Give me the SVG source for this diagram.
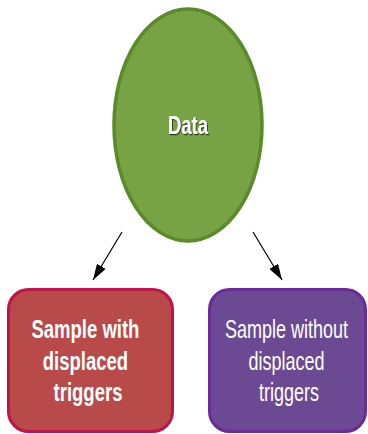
<svg xmlns="http://www.w3.org/2000/svg" width="368" height="434" viewBox="0 0 368 434">
  <defs>
    <marker id="arrow" viewBox="0 0 16 10" refX="16" refY="5" markerWidth="16" markerHeight="10" markerUnits="userSpaceOnUse" orient="auto">
      <path d="M0,0 L16,5 L0,10 Z" fill="#000"/>
    </marker>
    <filter id="shadow" x="-20%" y="-20%" width="140%" height="140%">
      <feDropShadow dx="1.2" dy="1.2" stdDeviation="0.3" flood-color="#1a1a1a" flood-opacity="0.9"/>
    </filter>
  </defs>
  <style>
    .lbl { font-family: "Liberation Sans Narrow", "Liberation Sans", Arial, sans-serif; fill: #ffffff; text-anchor: middle; font-size: 25px; }
    .conn { stroke: #000; stroke-width: 1.2; fill: none; marker-end: url(#arrow); }
  </style>
  <rect width="368" height="434" fill="#ffffff"/>

  <g id="connectors">
    <line class="conn" x1="122" y1="232" x2="93" y2="280"/>
    <line class="conn" x1="253" y1="232" x2="282" y2="280"/>
  </g>

  <g id="data">
    <ellipse cx="188" cy="125" rx="74" ry="116" fill="#77a345" stroke="#5b8a2b" stroke-width="3.5"/>
    <g transform="translate(188 0) scale(0.74 1)">
      <text class="lbl" x="0" y="134" font-weight="bold" filter="url(#shadow)">Data</text>
    </g>
  </g>

  <g id="with-displaced">
    <rect x="8.5" y="289.5" width="164" height="142" rx="20" fill="#b84b4a" stroke="#c0134b" stroke-width="3"/>
    <g transform="translate(88 0) scale(0.74 1)">
      <text class="lbl" font-weight="bold">
        <tspan x="0" y="338">Sample with</tspan>
        <tspan x="0" y="370">displaced</tspan>
        <tspan x="0" y="401">triggers</tspan>
      </text>
    </g>
  </g>

  <g id="without-displaced">
    <rect x="209.5" y="289.5" width="156" height="142" rx="20" fill="#6b4a93" stroke="#6a2a9b" stroke-width="3"/>
    <g transform="translate(289 0) scale(0.72 1)">
      <text class="lbl">
        <tspan x="0" y="338">Sample without</tspan>
        <tspan x="0" y="370">displaced</tspan>
        <tspan x="0" y="401">triggers</tspan>
      </text>
    </g>
  </g>
</svg>
